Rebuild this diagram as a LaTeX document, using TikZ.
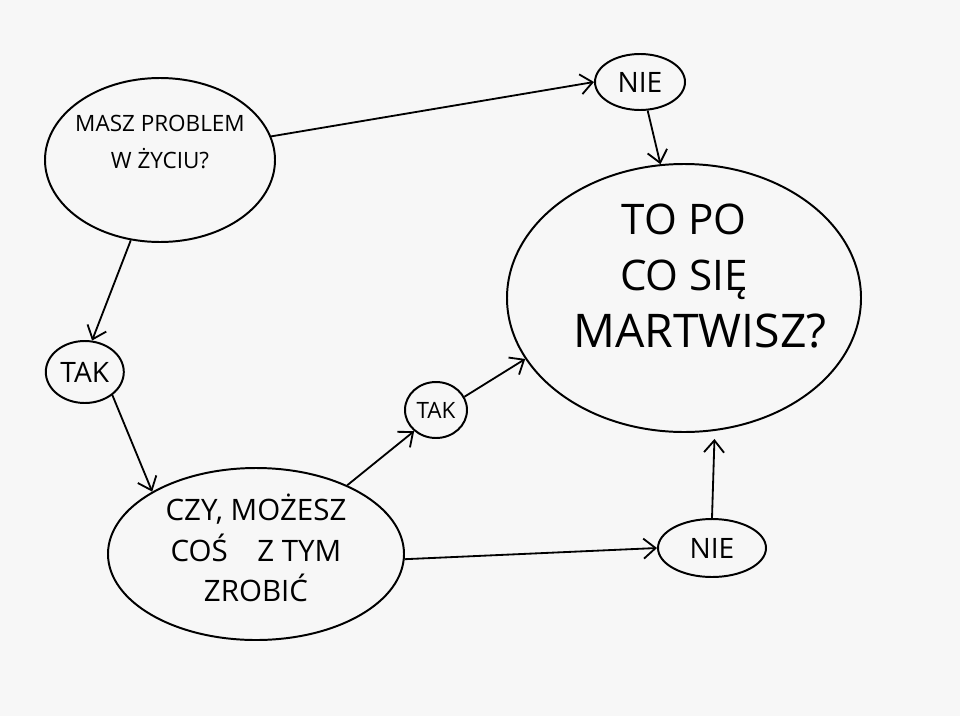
\documentclass[tikz,border=0pt]{standalone}
\usepackage{fontspec}
\setmainfont{Open Sans}
\usetikzlibrary{shapes.geometric,arrows.meta}

\begin{document}
\begin{tikzpicture}[
    bubble/.style={ellipse, draw, line width=1.4pt, inner sep=0pt, align=center},
    question/.style={bubble},
    answer/.style={bubble, font=\fontsize{20}{22}\selectfont},
    caption/.style={align=center, inner sep=0pt},
    flow/.style={line width=1.3pt, -{Straight Barb[length=3mm,width=5mm]}}
  ]
  \fill[black!3] (0,0) rectangle (24,-17.9);
  \useasboundingbox (0,0) rectangle (24,-17.9);

  % Questions
  \node[question, minimum width=5.75cm, minimum height=4.1cm] (prob) at (4.0,-4.0) {};
  \node[caption, font=\fontsize{16}{27}\selectfont] (probText) at (4.0,-3.55)
        {MASZ PROBLEM\\W ŻYCIU?};
  \node[question, minimum width=7.4cm, minimum height=4.3cm] (czy) at (6.4,-13.85) {};
  \node[caption, font=\fontsize{21}{29}\selectfont] (czyText) at (6.4,-13.7)
        {CZY, MOŻESZ\\COŚ\quad Z TYM\\ZROBIĆ};
  \node[question, minimum width=8.85cm, minimum height=6.7cm] (mart) at (17.1,-7.45) {};
  \node[caption, font=\fontsize{30}{40}\selectfont] (martText) at (17.1,-6.9)
        {TO PO\\CO SIĘ\\{\fontsize{33}{44}\selectfont\hspace*{0.8cm}MARTWISZ?}};

  % Answers
  \node[answer, minimum width=2.25cm, minimum height=1.4cm] (nieA) at (16.0,-2.05) {NIE};
  \node[answer, minimum width=1.95cm, minimum height=1.55cm] (takA) at (2.12,-9.3) {TAK};
  \node[answer, minimum width=1.55cm, minimum height=1.4cm,
        font=\fontsize{16}{18}\selectfont] (takB) at (10.9,-10.25) {TAK};
  \node[answer, minimum width=2.7cm, minimum height=1.45cm] (nieB) at (17.8,-13.7) {NIE};

  % Connections
  \draw[flow] (prob.12) -- (nieA.west);
  \draw[flow] (nieA.-75) -- (mart.100);
  \draw[flow] (prob.-110) -- (takA.77);
  \draw[flow] (takA.-40) -- (czy.149);
  \draw[flow] (czy.37) -- (takB.-136);
  \draw[flow] (takB.25) -- (mart.201);
  \draw[flow] (czy.-2) -- (nieB.west);
  \draw[flow, shorten >=2mm] (nieB.north) -- (mart.-77);

\end{tikzpicture}
\end{document}
